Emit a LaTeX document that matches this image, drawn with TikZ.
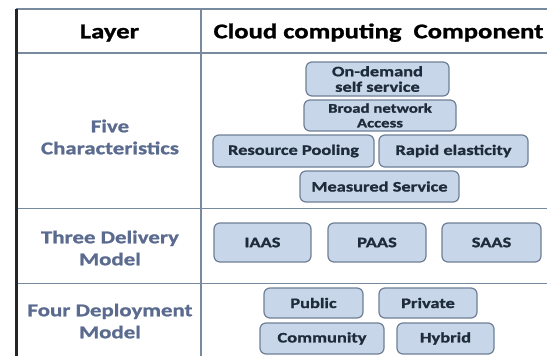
\documentclass[tikz,border=0pt]{standalone}
\usepackage{fontspec}
\setmainfont{Carlito}[FakeStretch=1.27,BoldFeatures={FakeBold=1.2}]
\definecolor{gridc}{HTML}{788A9E}
\definecolor{labc}{HTML}{5B6B8F}
\definecolor{boxfill}{HTML}{C8D6EA}
\definecolor{boxline}{HTML}{6E7F95}
\definecolor{boxtext}{HTML}{1E2B3A}
\begin{document}
\begin{tikzpicture}[x=1pt,y=-1pt,
  gridline/.style={draw=gridc,line width=1.6pt},
  comp/.style={draw=boxline,fill=boxfill,line width=1.2pt,rounded corners=6pt,
    inner sep=0pt,text=boxtext,align=center,
    font=\bfseries\fontsize{14.5}{15.5}\selectfont},
  layerlab/.style={text=labc,align=center,font=\bfseries\fontsize{18}{22}\selectfont},
  headlab/.style={text=black,anchor=base,font=\bfseries\fontsize{21}{24}\selectfont}]
\useasboundingbox (0,0) rectangle (547,356);
% grid
\coordinate (tl) at (16,9);
\coordinate (tr) at (547,9);
\coordinate (h1l) at (16,53);
\coordinate (h1r) at (547,53);
\coordinate (h2l) at (16,208.5);
\coordinate (h2r) at (547,208.5);
\coordinate (h3l) at (16,283.5);
\coordinate (h3r) at (547,283.5);
\coordinate (ct) at (201,9);
\coordinate (cb) at (201,356);
\coordinate (lb) at (16,356);
\draw[gridline] (tl) -- (tr);
\draw[gridline] (h1l) -- (h1r);
\draw[gridline] (h2l) -- (h2r);
\draw[gridline] (h3l) -- (h3r);
\draw[gridline] (ct) -- (cb);
\draw[line width=3pt,draw=black!85] (tl) -- (lb);
% headers
\node[headlab] (hlayer) at (109.5,38.3) {Layer};
\node[headlab] (hcomp) at (378.5,38.3) {Cloud computing\ \ Component};
% layer labels
\node[layerlab] (five) at (110,137) {Five\\Characteristics};
\node[layerlab] (three) at (110,248) {Three Delivery\\Model};
\node[layerlab] (four) at (110,321) {Four Deployment\\Model};
% components
\node[comp,minimum width=143pt,minimum height=34pt] (ondemand) at (377.5,79) {On-demand\\self service};
\node[comp,minimum width=152pt,minimum height=31pt,font=\bfseries\fontsize{13.2}{14.7}\selectfont] (broad) at (380,115.5) {Broad network\\Access};
\node[comp,minimum width=161pt,minimum height=32pt] (pooling) at (293.5,151) {Resource Pooling};
\node[comp,minimum width=149pt,minimum height=32pt] (rapid) at (453.5,151) {Rapid elasticity};
\node[comp,minimum width=159pt,minimum height=31pt] (measured) at (379.5,186.5) {Measured Service};
\node[comp,minimum width=97pt,minimum height=39pt] (iaas) at (262.5,242.5) {IAAS};
\node[comp,minimum width=98pt,minimum height=39pt] (paas) at (377,242.5) {PAAS};
\node[comp,minimum width=99pt,minimum height=39pt] (saas) at (491.5,242.5) {SAAS};
\node[comp,minimum width=99pt,minimum height=30pt] (public) at (313.5,303) {Public};
\node[comp,minimum width=98pt,minimum height=30pt] (private) at (428,303) {Private};
\node[comp,minimum width=124pt,minimum height=31pt] (community) at (322,338.5) {Community};
\node[comp,minimum width=97pt,minimum height=31pt] (hybrid) at (445.5,338.5) {Hybrid};
\end{tikzpicture}
\end{document}
